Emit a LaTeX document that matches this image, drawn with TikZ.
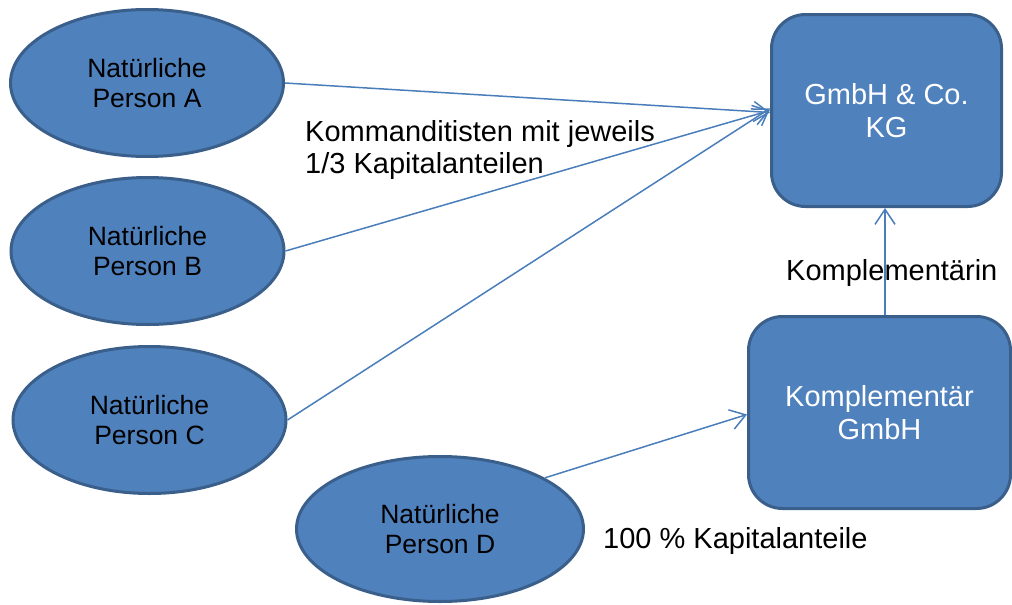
\documentclass[tikz,border=0pt]{standalone}
\usepackage{fontspec}
\setmainfont{Liberation Sans}
\usetikzlibrary{shapes.geometric,arrows.meta}
\definecolor{boxfill}{HTML}{4F81BD}
\definecolor{boxline}{HTML}{3A5F8B}
\definecolor{arrowcol}{HTML}{4A7EBB}
\tikzset{
  person/.style={ellipse, draw=boxline, fill=boxfill, line width=3pt, inner sep=0pt,
    minimum width=273pt, minimum height=147pt, align=center,
    font=\fontsize{26.5pt}{30.5pt}\selectfont},
  company/.style={rectangle, rounded corners=34pt, draw=boxline, fill=boxfill, line width=3pt,
    inner sep=0pt, align=center, text=white, font=\fontsize{29pt}{33pt}\selectfont},
  conn/.style={draw=arrowcol, line width=1.5pt, -{Straight Barb[length=15pt,width=20pt,line width=1.5pt]}},
  lbl/.style={inner sep=0pt, align=left, font=\fontsize{29pt}{32.5pt}\selectfont}
}
\begin{document}
\begin{tikzpicture}[x=1pt,y=-1pt]
\useasboundingbox (0,0) rectangle (1012,605);
\node[person] (A) at (147,83) {Natürliche\\Person A};
\node[person] (B) at (147.5,251) {Natürliche\\Person B};
\node[person] (C) at (149.5,420) {Natürliche\\Person C};
\node[person, minimum width=287pt, minimum height=145pt] (D) at (440,529) {Natürliche\\Person D};
\node[company, minimum width=230pt, minimum height=192pt] (G) at (886.5,110.5) {GmbH \& Co.\\KG};
\node[company, minimum width=262pt, minimum height=192pt] (K) at (879.5,412.5) {Komplementär\\GmbH};
\coordinate (kt) at (885,315);
\coordinate (gb) at (885,208);
\draw[conn] (A.east) -- ([yshift=-2pt]G.west);
\draw[conn] (B.east) -- (G.west);
\draw[conn] (C.east) -- ([yshift=2pt]G.west);
\draw[conn] (D.26) -- ([yshift=-2pt]K.west);
\draw[conn] (kt) -- (gb);
\node[lbl, anchor=base west] (l1) at (305,173.5) {Kommanditisten mit jeweils\\1/3 Kapitalanteilen};
\node[lbl, anchor=base west] (l2) at (786,280) {Komplementärin};
\node[lbl, anchor=base west] (l3) at (603,548) {100 \% Kapitalanteile};
\end{tikzpicture}
\end{document}
